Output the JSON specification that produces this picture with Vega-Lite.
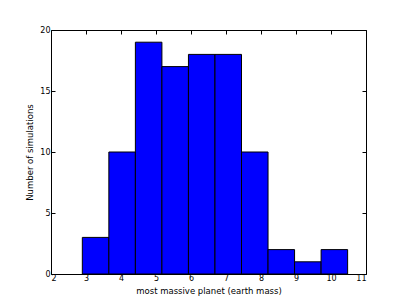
{
  "$schema": "https://vega.github.io/schema/vega-lite/v6.json",
  "width": 315,
  "height": 244,
  "autosize": {"type": "none"},
  "padding": {"left": 51, "top": 30, "right": 41, "bottom": 31},
  "background": "white",
  "config": {
    "view": {"stroke": "black", "strokeWidth": 1},
    "font": "DejaVu Sans",
    "axis": {
      "grid": false,
      "domain": false,
      "tickColor": "black",
      "tickSize": -4,
      "labelFont": "DejaVu Sans",
      "labelFontSize": 8,
      "labelColor": "black",
      "titleFont": "DejaVu Sans",
      "titleFontSize": 8.5,
      "titleFontWeight": "normal",
      "titleColor": "black"
    }
  },
  "data": {
    "values": [
      {"start": 2.895, "end": 3.653, "count": 3},
      {"start": 3.653, "end": 4.411, "count": 10},
      {"start": 4.411, "end": 5.169, "count": 19},
      {"start": 5.169, "end": 5.927, "count": 17},
      {"start": 5.927, "end": 6.685, "count": 18},
      {"start": 6.685, "end": 7.443, "count": 18},
      {"start": 7.443, "end": 8.201, "count": 10},
      {"start": 8.201, "end": 8.959, "count": 2},
      {"start": 8.959, "end": 9.717, "count": 1},
      {"start": 9.717, "end": 10.475, "count": 2}
    ]
  },
  "layer": [
    {
      "mark": {"type": "bar", "color": "#0000ff", "stroke": "black", "strokeWidth": 1},
      "encoding": {
        "x": {
          "field": "start", "type": "quantitative",
          "scale": {"domain": [2, 11], "nice": false, "zero": false},
          "axis": {"orient": "bottom", "values": [2,3,4,5,6,7,8,9,10,11], "format": "d", "labelPadding": 4, "title": "most massive planet (earth mass)", "titlePadding": 4}
        },
        "x2": {"field": "end"},
        "y": {
          "field": "count", "type": "quantitative",
          "scale": {"domain": [0, 20], "nice": false},
          "axis": {"orient": "left", "values": [0,5,10,15,20], "labelPadding": 5, "title": "Number of simulations", "titlePadding": 5}
        },
        "y2": {"datum": 0}
      }
    },
    {
      "mark": {"type": "bar", "opacity": 0},
      "encoding": {
        "x": {
          "field": "start", "type": "quantitative",
          "scale": {"domain": [2, 11], "nice": false, "zero": false},
          "axis": {"orient": "top", "values": [2,3,4,5,6,7,8,9,10,11], "labels": false, "title": null}
        },
        "x2": {"field": "end"},
        "y": {
          "field": "count", "type": "quantitative",
          "scale": {"domain": [0, 20], "nice": false},
          "axis": {"orient": "right", "values": [0,5,10,15,20], "labels": false, "title": null}
        },
        "y2": {"datum": 0}
      }
    }
  ],
  "resolve": {"axis": {"x": "independent", "y": "independent"}}
}
